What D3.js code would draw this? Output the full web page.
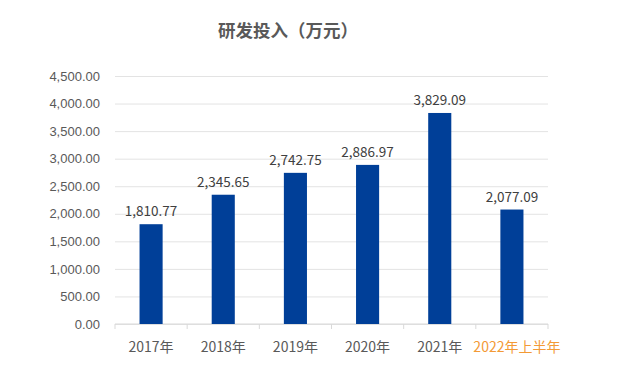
<!DOCTYPE html>
<html><head><meta charset="utf-8">
<script src="https://cdn.jsdelivr.net/npm/d3@7"></script>
<style>body{margin:0;background:#fff}svg{display:block;font-family:"Noto Sans CJK SC","Noto Sans",sans-serif}</style>
</head><body>
<svg id="c" width="628" height="382"></svg>
<script>
const categories = ["2017年","2018年","2019年","2020年","2021年","2022年上半年"];
const values = [1810.77, 2345.65, 2742.75, 2886.97, 3829.09, 2077.09];
const yTicks = [0,500,1000,1500,2000,2500,3000,3500,4000,4500];
const title = "研发投入（万元）";

const svg = d3.select("#c");
const m = {l:115, r:80, t:76, b:58};
const W = 628, H = 382;
const x = d3.scaleBand().domain(categories).range([m.l, W - m.r]).paddingInner(0.68).paddingOuter(0.34);
const y = d3.scaleLinear().domain([0,4500]).range([H - m.b, m.t]);
const fmt = d3.format(",.2f");

svg.append("text").attr("x",288).attr("y",37).attr("text-anchor","middle")
  .attr("font-size",17.5).attr("font-weight","bold").attr("fill","#595959").text(title);

const yAxis = svg.append("g").attr("transform",`translate(${m.l},0)`)
  .call(d3.axisLeft(y).tickValues(yTicks).tickFormat(fmt).tickSize(-(W - m.r - m.l)).tickPadding(15));
yAxis.select(".domain").remove();
yAxis.selectAll(".tick line").attr("stroke","#e3e3e3");
yAxis.selectAll(".tick text").attr("fill","#595959").attr("font-size",13);

const xs = d3.scaleLinear().domain([0,categories.length]).range([m.l, W - m.r]);
const xg = svg.append("g").attr("transform",`translate(0,${y(0)})`);
xg.append("line").attr("x1",m.l).attr("x2",W-m.r).attr("stroke","#d9d9d9");
xg.selectAll("line.t").data(d3.range(categories.length+1)).join("line").attr("class","t")
  .attr("x1",d=>xs(d)).attr("x2",d=>xs(d)).attr("y1",0).attr("y2",5).attr("stroke","#d9d9d9");
xg.selectAll("text").data(categories).join("text")
  .attr("x",(d,i)=>x(d)+x.bandwidth()/2 + (i===categories.length-1?5:0)).attr("y",28).attr("text-anchor","middle")
  .attr("font-size",14).attr("fill",(d,i)=>i===categories.length-1?"#F39A36":"#595959").text(d=>d);

svg.selectAll("rect.bar").data(values).join("rect").attr("class","bar")
  .attr("x",(d,i)=>x(categories[i])).attr("width",x.bandwidth())
  .attr("y",d=>y(d)).attr("height",d=>y(0)-y(d)).attr("fill","#003F98");

svg.selectAll("text.lbl").data(values).join("text").attr("class","lbl")
  .attr("x",(d,i)=>x(categories[i])+x.bandwidth()/2).attr("y",d=>y(d)-8)
  .attr("text-anchor","middle").attr("font-size",13.5).attr("fill","#404040").text(d=>fmt(d));
</script>
</body></html>
